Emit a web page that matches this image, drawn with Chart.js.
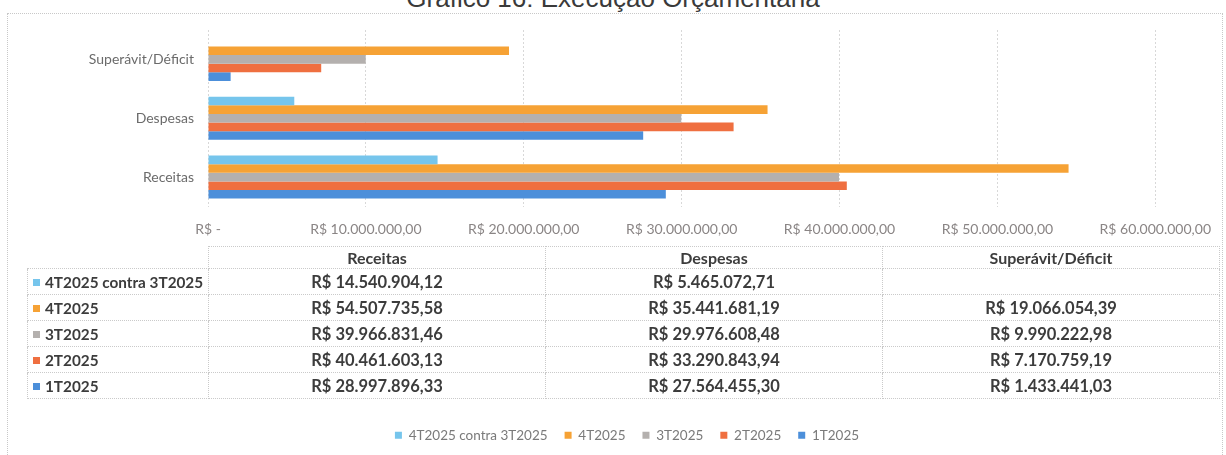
<!DOCTYPE html>
<html lang="pt-BR">
<head>
<meta charset="utf-8">
<title>Gráfico 16: Execução Orçamentária</title>
<script src="https://cdn.jsdelivr.net/npm/chart.js@4.4.1/dist/chart.umd.min.js"></script>
<style>
  html, body { margin: 0; padding: 0; background: #fff; }
  body { width: 1226px; height: 455px; overflow: hidden; position: relative; font-family: Lato, "Open Sans", sans-serif; }
  #titulo { position: absolute; left: 0; top: -17px; width: 1226px; text-align: center; white-space: nowrap;
            font: 26px/30px "Liberation Sans", Arial, sans-serif; color: #3a3a3a; }
  #moldura { position: absolute; left: 7px; top: 13px; width: 1214px; height: 470px; border: 1px dotted #c8c8c8; }
  #caixa { position: absolute; left: 0; top: 0; width: 1226px; height: 455px; }
  #tabela { position: absolute; left: 27px; top: 246px; width: 1192px; border-collapse: collapse; table-layout: fixed;
            font-weight: bold; font-size: 16.5px; color: #3c3c3c; }
  #tabela th, #tabela td { border: 1px dotted #cacaca; padding: 0; text-align: center; white-space: nowrap; overflow: hidden; }
  #tabela th { height: 21px; font-size: 16px; }
  #tabela td { height: 25px; }
  #tabela th.vazio { border-top-style: none; border-left-style: none; }
  #tabela td.rotulo { text-align: left; padding-left: 5px; font-size: 15.3px; }
  .quadrado { display: inline-block; width: 7px; height: 7px; margin-right: 5px; vertical-align: middle; position: relative; top: -1px; }
</style>
</head>
<body>
<div id="moldura"></div>
<div id="titulo">Gráfico 16: Execução Orçamentária</div>
<div id="caixa"><canvas id="grafico"></canvas></div>
<table id="tabela">
  <colgroup><col style="width:181px"><col style="width:337px"><col style="width:337px"><col style="width:337px"></colgroup>
  <tbody id="corpo"></tbody>
</table>
<script>
// dados do grafico
const categorias = ['Receitas', 'Despesas', 'Superávit/Déficit'];
const series = ['4T2025 contra 3T2025', '4T2025', '3T2025', '2T2025', '1T2025'];
const v4Tcontra3T = [14540904.12, 5465072.71, null];
const v4T = [54507735.58, 35441681.19, 19066054.39];
const v3T = [39966831.46, 29976608.48, 9990222.98];
const v2T = [40461603.13, 33290843.94, 7170759.19];
const v1T = [28997896.33, 27564455.30, 1433441.03];
const ticksX = [0, 10000000, 20000000, 30000000, 40000000, 50000000, 60000000];
const cores = ['#76c5ec', '#f6a235', '#b4b0ae', '#ef6f40', '#4c8fda'];

const valores = [v4Tcontra3T, v4T, v3T, v2T, v1T];

// formato R$ 1.234,56 (zero vira "R$ -")
function brl(v) {
  if (!v) return 'R$ -';
  const partes = v.toFixed(2).split('.');
  return 'R$ ' + partes[0].replace(/\B(?=(\d{3})+(?!\d))/g, '.') + ',' + partes[1];
}

// tabela de dados embaixo do grafico
let linhas = '<tr><th class="vazio"></th>' + categorias.map(c => '<th>' + c + '</th>').join('') + '</tr>';
valores.forEach((vals, i) => {
  linhas += '<tr><td class="rotulo"><span class="quadrado" style="background:' + cores[i] + '"></span>' + series[i] + '</td>' +
    vals.map(v => '<td>' + (v == null ? '' : brl(v)) + '</td>').join('') + '</tr>';
});
document.getElementById('corpo').innerHTML = linhas;

const grafico = new Chart(document.getElementById('grafico'), {
  type: 'bar',
  data: {
    labels: categorias,
    datasets: series.map((nome, i) => ({
      label: nome,
      data: valores[i],
      backgroundColor: cores[i],
      borderWidth: 0,
      barPercentage: 1,
      categoryPercentage: 0.73
    }))
  },
  options: {
    indexAxis: 'y',
    responsive: true,
    maintainAspectRatio: false,
    animation: false,
    devicePixelRatio: 1,
    layout: { padding: { top: 30, left: 28, right: 0, bottom: 3 } },
    scales: {
      x: {
        min: 0,
        max: 60000000,
        afterBuildTicks: s => { s.ticks = ticksX.map(v => ({ value: v })); },
        afterFit: s => { s.height = 205; },
        grid: { color: '#d8d8d8', drawTicks: false },
        border: { display: false, dash: [2, 2] },
        ticks: { padding: 15, color: '#8a8585', font: { family: 'Lato', size: 14 }, maxRotation: 0, autoSkip: false, callback: v => brl(v) }
      },
      y: {
        reverse: true,
        afterFit: s => { s.width = 180; },
        grid: { display: false, drawTicks: false },
        border: { display: false },
        ticks: { padding: 14, color: '#6b6b6b', font: { family: 'Lato', size: 14 } }
      },
      // eixo vazio a direita, so para reservar espaco
      direita: {
        type: 'category',
        axis: 'y',
        position: 'right',
        afterFit: s => { s.width = 63; },
        grid: { display: false, drawTicks: false },
        border: { display: false },
        ticks: { display: false }
      }
    },
    plugins: {
      title: { display: false },
      tooltip: { enabled: false },
      legend: {
        position: 'bottom',
        labels: { boxWidth: 7, boxHeight: 7, padding: 17, color: '#7a7a7a', font: { family: 'Lato', size: 13.5 } }
      }
    }
  }
});
</script>
</body>
</html>
